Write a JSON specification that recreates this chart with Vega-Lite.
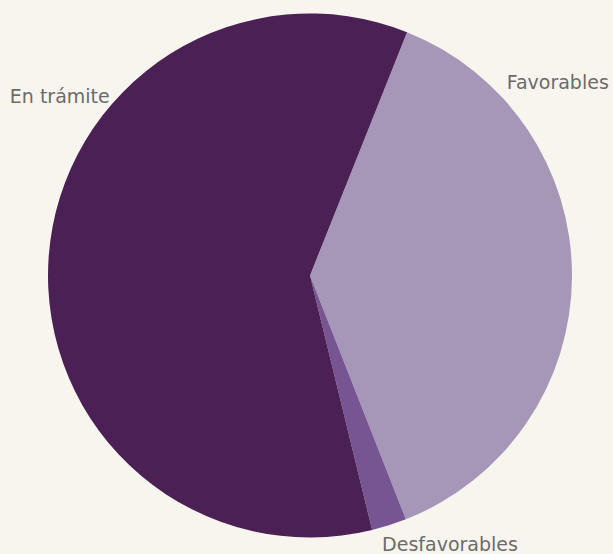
{
  "$schema": "https://vega.github.io/schema/vega-lite/v6.json",
  "width": 524,
  "height": 524,
  "autosize": {"type": "none"},
  "padding": {"left": 48, "top": 13.5, "right": 41, "bottom": 16.5},
  "background": "#f8f5ef",
  "config": {"view": {"stroke": null}},
  "data": {
    "values": [
      {"categoria": "Favorables", "valor": 38.0, "orden": 1},
      {"categoria": "Desfavorables", "valor": 2.15, "orden": 2},
      {"categoria": "En trámite", "valor": 59.85, "orden": 3}
    ]
  },
  "encoding": {
    "theta": {
      "field": "valor",
      "type": "quantitative",
      "stack": true,
      "scale": {"range": [0.3794, 6.6626]}
    },
    "order": {"field": "orden", "type": "quantitative"}
  },
  "layer": [
    {
      "mark": {"type": "arc", "outerRadius": 262},
      "encoding": {
        "color": {
          "field": "categoria",
          "type": "nominal",
          "scale": {
            "domain": ["Favorables", "Desfavorables", "En trámite"],
            "range": ["#a697b9", "#775592", "#4a2055"]
          },
          "legend": null
        }
      }
    },
    {
      "mark": {
        "type": "text",
        "radius": 310,
        "thetaOffset": {"expr": "datum.categoria === 'Favorables' ? -0.6472 : datum.categoria === 'Desfavorables' ? -0.1632 : 0.5339"},
        "radiusOffset": {"expr": "datum.categoria === 'En trámite' ? -6 : datum.categoria === 'Desfavorables' ? -1 : 0"},
        "font": "DejaVu Sans",
        "fontSize": 19,
        "fill": "#6b6b6b",
        "align": "center",
        "baseline": "alphabetic"
      },
      "encoding": {
        "text": {"field": "categoria", "type": "nominal"}
      }
    }
  ]
}
